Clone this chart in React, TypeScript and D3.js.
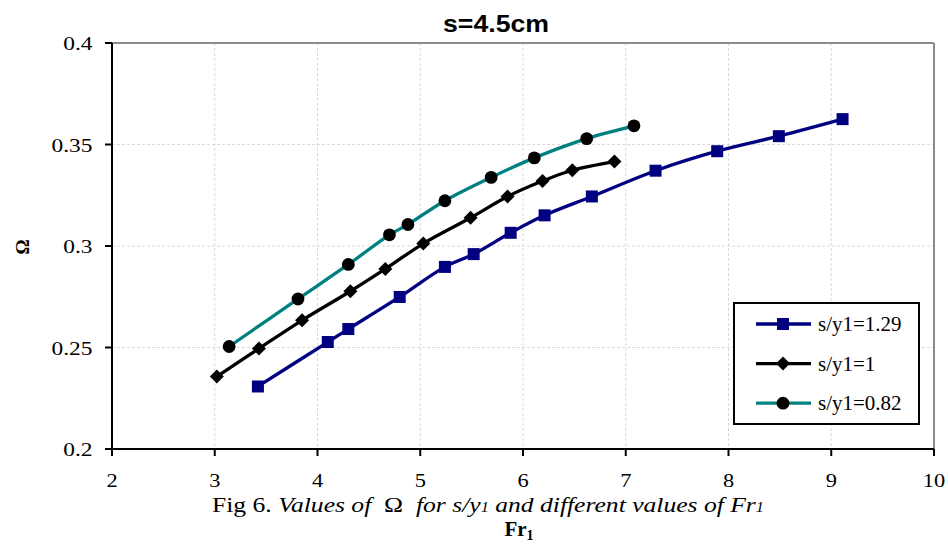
import React from "react";
import * as d3 from "d3";

const W = 948;
const H = 546;

// Fr1 values and Omega values
const frBlue = [3.42, 4.1, 4.3, 4.8, 5.24, 5.52, 5.88, 6.21, 6.67, 7.29, 7.89, 8.49, 9.11];
const omBlue = [0.2308, 0.2527, 0.2591, 0.2749, 0.2897, 0.296, 0.3065, 0.3151, 0.3244, 0.3371, 0.3467, 0.3541, 0.3625];

const frBlack = [3.02, 3.43, 3.85, 4.32, 4.66, 5.03, 5.49, 5.85, 6.19, 6.48, 6.89];
const omBlack = [0.2357, 0.2495, 0.2634, 0.2777, 0.2887, 0.3012, 0.3139, 0.3244, 0.332, 0.3373, 0.3416];

const frTeal = [3.14, 3.81, 4.3, 4.7, 4.88, 5.24, 5.69, 6.11, 6.62, 7.08];
const omTeal = [0.2505, 0.2739, 0.2909, 0.3055, 0.3106, 0.3223, 0.3338, 0.3434, 0.3529, 0.3592];

const xTicks = [2, 3, 4, 5, 6, 7, 8, 9, 10];
const yTicks = [0.2, 0.25, 0.3, 0.35, 0.4];

const seriesNames = ["s/y1=1.29", "s/y1=1", "s/y1=0.82"];
const seriesColors = ["#000080", "#000000", "#008080"];
const seriesShapes = ["square", "diamond", "circle"];

const margin = { left: 112, right: W - 934, top: 43, bottom: H - 449 };

const serif = "'Liberation Serif', 'Times New Roman', serif";

function Marker({ shape, x, y }: { shape: string; x: number; y: number }) {
  if (shape === "square") {
    return <rect x={x - 6} y={y - 6} width={12} height={12} fill="#000080" />;
  }
  if (shape === "diamond") {
    const r = 7;
    return (
      <path
        d={`M${x},${y - r}L${x + r},${y}L${x},${y + r}L${x - r},${y}Z`}
        fill="#000"
      />
    );
  }
  return <circle cx={x} cy={y} r={6.4} fill="#000" />;
}

export default function App() {
  const x = d3.scaleLinear().domain([2, 10]).range([margin.left, W - margin.right]);
  const y = d3.scaleLinear().domain([0.2, 0.4]).range([H - margin.bottom, margin.top]);

  const series = [
    { xs: frBlue, ys: omBlue },
    { xs: frBlack, ys: omBlack },
    { xs: frTeal, ys: omTeal },
  ].map((s, i) => ({
    name: seriesNames[i],
    color: seriesColors[i],
    shape: seriesShapes[i],
    points: s.xs.map((v, j) => [v, s.ys[j]] as [number, number]),
  }));

  const line = d3
    .line<[number, number]>()
    .x((d) => x(d[0]))
    .y((d) => y(d[1]))
    .curve(d3.curveCatmullRom.alpha(0.5));

  const x0 = x(2);
  const x1 = x(10);
  const y0 = y(0.2);
  const y1 = y(0.4);

  // legend position
  const lg = { x: 734, y: 303, w: 185, h: 121 };

  return (
    <svg width={W} height={H} style={{ position: "absolute", left: 0, top: 0, background: "#fff" }}>
      {/* grid */}
      {xTicks.slice(1, -1).map((t) => (
        <line key={"gx" + t} x1={x(t)} x2={x(t)} y1={y1} y2={y0} stroke="#dadada" strokeWidth={1} strokeDasharray="3,2" />
      ))}
      {yTicks.slice(1, -1).map((t) => (
        <line key={"gy" + t} x1={x0} x2={x1} y1={y(t)} y2={y(t)} stroke="#dadada" strokeWidth={1} strokeDasharray="3,2" />
      ))}

      {/* frame */}
      <line x1={x0} x2={x1} y1={y1} y2={y1} stroke="#8c8c8c" strokeWidth={2} />
      <line x1={x1} x2={x1} y1={y1} y2={y0} stroke="#8c8c8c" strokeWidth={2} />

      {/* axes */}
      <line x1={x0} x2={x1} y1={y0} y2={y0} stroke="#000" strokeWidth={2} />
      <line x1={x0} x2={x0} y1={y1} y2={y0} stroke="#000" strokeWidth={2} />
      {xTicks.map((t) => (
        <g key={"xt" + t}>
          <line x1={x(t)} x2={x(t)} y1={y0} y2={y0 + 7} stroke="#000" strokeWidth={2} />
          <text transform={`translate(${x(t)},487) scale(1.18,1)`} textAnchor="middle" fontFamily={serif} fontSize={19}>
            {t}
          </text>
        </g>
      ))}
      {yTicks.map((t) => (
        <g key={"yt" + t}>
          <line x1={x0 - 7} x2={x0} y1={y(t)} y2={y(t)} stroke="#000" strokeWidth={2} />
          <text transform={`translate(92.5,${y(t) + 7}) scale(1.2,1)`} textAnchor="end" fontFamily={serif} fontSize={19.5}>
            {String(t)}
          </text>
        </g>
      ))}

      {/* series */}
      {series.map((s) => (
        <g key={s.name}>
          <path d={line(s.points) || ""} fill="none" stroke={s.color} strokeWidth={3.3} />
          {s.points.map((p, j) => (
            <Marker key={j} shape={s.shape} x={x(p[0])} y={y(p[1])} />
          ))}
        </g>
      ))}

      {/* legend */}
      <rect x={lg.x} y={lg.y} width={lg.w} height={lg.h} fill="#fff" stroke="#000" strokeWidth={2} />
      {series.map((s, i) => {
        const cy = 324 + i * 39.6;
        return (
          <g key={"lg" + s.name}>
            <line x1={756} x2={811} y1={cy} y2={cy} stroke={s.color} strokeWidth={3.3} />
            <Marker shape={s.shape} x={783} y={cy} />
            <text x={818} y={cy + 7} fontFamily={serif} fontSize={21}>
              {s.name}
            </text>
          </g>
        );
      })}

      {/* title */}
      <text x={496} y={32} textAnchor="middle" fontFamily="'Liberation Sans', Arial, sans-serif" fontWeight="bold" fontSize={24} textLength={106} lengthAdjust="spacingAndGlyphs">
        s=4.5cm
      </text>

      {/* y label */}
      <text transform="translate(29,247) rotate(-90)" textAnchor="middle" fontFamily={serif} fontWeight="bold" fontSize={19}>
        Ω
      </text>

      {/* caption */}
      <text x={212} y={512} fontFamily={serif} fontSize={22} textLength={552} lengthAdjust="spacingAndGlyphs">
        <tspan>Fig 6. </tspan>
        <tspan fontStyle="italic">Values of </tspan>
        <tspan>{"\u00a0Ω\u00a0\u00a0"}</tspan>
        <tspan fontStyle="italic">for s/y</tspan>
        <tspan fontStyle="italic" fontSize={14}>1</tspan>
        <tspan fontStyle="italic"> and different values of Fr</tspan>
        <tspan fontStyle="italic" fontSize={14}>1</tspan>
      </text>

      {/* x label */}
      <text x={519} y={536} textAnchor="middle" fontFamily={serif} fontWeight="bold" fontSize={21}>
        <tspan>Fr</tspan>
        <tspan fontSize={14} dy={4}>1</tspan>
      </text>
    </svg>
  );
}
